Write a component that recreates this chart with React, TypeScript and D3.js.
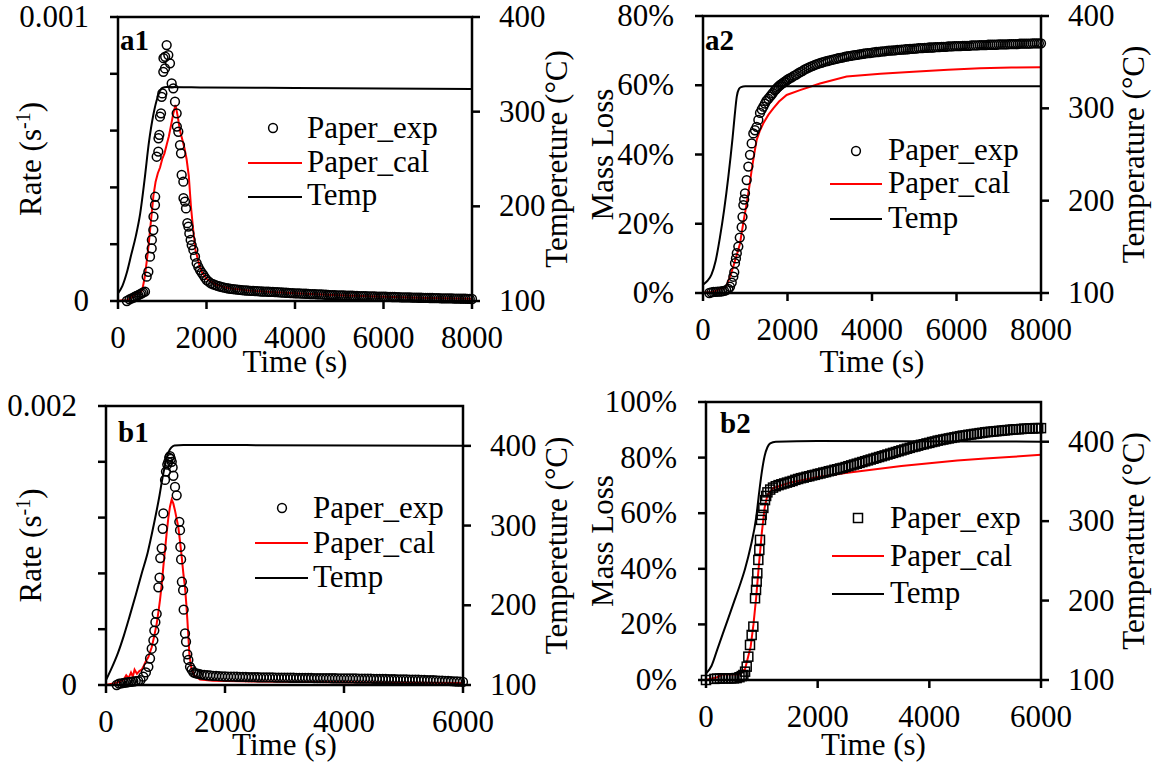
import React from 'react';
import * as d3 from 'd3';

type P = [number, number];

// ---------- Panel a1 (rate, 0..8000 s) ----------
const a1Temp: P[] = [[0,108],[100,116],[200,130],[300,149],[400,168],[500,192],[600,228],[700,268],[800,297],[900,316],[950,322],[1000,325],[1100,326],[2000,325.5],[4000,325],[8000,324]];
const a1Exp: P[] = [[200,0],[260,0.000006],[309,0.0000095],[350,0.000012],[384,0.000015],[420,0.000018],[459,0.000021],[500,0.000024],[535,0.000027],[570,0.00003],[610,0.000033],[648,0.0000857],[686,0.000103],[723,0.000156],[761,0.000185],[765,0.000215],[798,0.00025],[802,0.000297],[836,0.000338],[840,0.000367],[874,0.000508],[911,0.000526],[915,0.000573],[934,0.000585],[949,0.000649],[972,0.000661],[987,0.000719],[1002,0.000731],[1024,0.000807],[1062,0.000819],[1028,0.000855],[1066,0.00086],[1100,0.000901],[1137,0.000866],[1175,0.000837],[1213,0.000766],[1250,0.000749],[1288,0.000702],[1326,0.000661],[1330,0.000614],[1363,0.000596],[1401,0.000549],[1424,0.00052],[1439,0.000444],[1477,0.00042],[1480,0.000362],[1514,0.00035],[1537,0.000326],[1567,0.000274],[1590,0.000262],[1612,0.000238],[1642,0.000215],[1665,0.000197],[1703,0.00018],[1740,0.000156],[1778,0.000133],[1815,0.00012],[1853,0.000109],[1890,0.0001],[1928,0.0000915],[1966,0.000082],[2004,0.000074]];
// tail of the experiment, sampled every 50 s from 2050 s, rate in 1e-5 s^-1
const a1TailStart = 2050;
const a1TailRate1e5 = [
  6.8, 6.2, 5.9, 5.6, 5.3, 5.1, 4.9, 4.7, 4.55, 4.4,
  4.3, 4.2, 4.1, 4.0, 3.9, 3.8, 3.75, 3.7, 3.65, 3.6,
  3.55, 3.5, 3.45, 3.4, 3.35, 3.3, 3.3, 3.25, 3.2, 3.2,
  3.15, 3.1, 3.05, 3.0, 2.95, 2.9, 2.85, 2.8, 2.75, 2.7,
  2.7, 2.65, 2.6, 2.6, 2.55, 2.5, 2.45, 2.4, 2.4, 2.35,
  2.3, 2.3, 2.25, 2.2, 2.15, 2.1, 2.1, 2.05, 2.0, 2.0,
  1.95, 1.95, 1.9, 1.9, 1.85, 1.85, 1.8, 1.8, 1.75, 1.75,
  1.7, 1.7, 1.65, 1.65, 1.6, 1.6, 1.55, 1.55, 1.5, 1.5,
  1.5, 1.45, 1.45, 1.4, 1.4, 1.35, 1.35, 1.3, 1.3, 1.3,
  1.25, 1.25, 1.2, 1.2, 1.2, 1.15, 1.15, 1.1, 1.1, 1.1,
  1.05, 1.05, 1.0, 1.0, 1.0, 0.95, 0.95, 0.95, 0.9, 0.9,
  0.9, 0.85, 0.85, 0.85, 0.8, 0.8, 0.8, 0.75, 0.75, 0.7,
];
const a1Cal: P[] = [[0,0],[100,0.000003],[200,0.000002],[300,0.000012],[400,0.000025],[450,0.00003],[500,0.000028],[550,0.00004],[600,0.00008],[650,0.00014],[700,0.00021],[750,0.00029],[800,0.00037],[850,0.00042],[900,0.00045],[950,0.00047],[1000,0.0005],[1050,0.00052],[1100,0.00055],[1150,0.00058],[1200,0.00062],[1250,0.00066],[1300,0.00069],[1350,0.00065],[1400,0.0006],[1450,0.00057],[1500,0.00054],[1550,0.0005],[1600,0.00044],[1650,0.00033],[1700,0.00025],[1750,0.00018],[1800,0.00015],[1850,0.00012],[1900,0.0001],[2000,0.000078],[2200,0.000058],[2500,0.000045],[3000,0.000036],[4000,0.000027],[5000,0.00002],[6000,0.000015],[7000,0.000011],[8000,0.000008]];

// ---------- Panel a2 (mass loss, 0..8000 s) ----------
const a2Temp: P[] = [[0,109],[100,113],[200,120],[300,135],[400,160],[500,190],[600,226],[700,268],[750,292],[800,313],[850,321],[900,323],[1000,324],[8000,324]];
const a2Exp: P[] = [[150,0],[200,0.002],[250,0.003],[300,0.003],[350,0.004],[400,0.004],[450,0.005],[500,0.006],[550,0.008],[600,0.012],[639,0.018],[680,0.03],[718,0.047],[740,0.06],[757,0.086],[780,0.1],[800,0.115],[836,0.134],[870,0.16],[915,0.19],[935,0.22],[955,0.254],[975,0.27],[994,0.288],[1034,0.326],[1073,0.365],[1112,0.399],[1152,0.432],[1191,0.461],[1230,0.47],[1270,0.48],[1310,0.5],[1349,0.52],[1390,0.53],[1428,0.538],[1465,0.547],[1500,0.555],[1545,0.561],[1586,0.567],[1620,0.572],[1650,0.577],[1700,0.585],[1730,0.589],[1760,0.593],[1790,0.597],[1822,0.6],[1855,0.603],[1890,0.606],[1920,0.609],[1950,0.611],[1980,0.614],[2010,0.617]];
// tail sampled every 50 s from 2050 s, mass loss in %
const a2TailStart = 2050;
const a2TailPct = [
  62.0, 62.3, 62.7, 63.0, 63.4, 63.8, 64.1, 64.5, 64.8, 65.1,
  65.4, 65.6, 65.9, 66.1, 66.3, 66.5, 66.7, 66.9, 67.0, 67.2,
  67.3, 67.5, 67.6, 67.8, 67.9, 68.0, 68.2, 68.3, 68.4, 68.5,
  68.6, 68.7, 68.8, 68.9, 69.0, 69.1, 69.2, 69.3, 69.3, 69.4,
  69.5, 69.6, 69.6, 69.7, 69.8, 69.8, 69.9, 70.0, 70.0, 70.1,
  70.1, 70.2, 70.2, 70.3, 70.3, 70.4, 70.4, 70.5, 70.5, 70.6,
  70.6, 70.7, 70.7, 70.7, 70.8, 70.8, 70.9, 70.9, 70.9, 71.0,
  71.0, 71.0, 71.1, 71.1, 71.1, 71.2, 71.2, 71.2, 71.3, 71.3,
  71.3, 71.3, 71.4, 71.4, 71.4, 71.4, 71.5, 71.5, 71.5, 71.5,
  71.6, 71.6, 71.6, 71.6, 71.7, 71.7, 71.7, 71.7, 71.7, 71.8,
  71.8, 71.8, 71.8, 71.8, 71.9, 71.9, 71.9, 71.9, 71.9, 72.0,
  72.0, 72.0, 72.0, 72.0, 72.0, 72.1, 72.1, 72.1, 72.1, 72.1,
];
const a2Cal: P[] = [[0,0.001],[100,0.002],[200,0.003],[300,0.006],[400,0.012],[450,0.014],[500,0.015],[550,0.02],[600,0.035],[650,0.05],[700,0.07],[750,0.09],[800,0.11],[876,0.143],[950,0.2],[1034,0.259],[1100,0.31],[1152,0.355],[1210,0.4],[1270,0.442],[1350,0.47],[1428,0.49],[1550,0.515],[1664,0.533],[1800,0.553],[1980,0.572],[2296,0.586],[2769,0.605],[3400,0.625],[4200,0.633],[4978,0.639],[5800,0.645],[6556,0.649],[7300,0.651],[8000,0.652]];

// ---------- Panel b1 (rate, 0..6000 s) ----------
const b1Temp: P[] = [[0,106],[100,122],[200,140],[300,162],[400,187],[500,213],[600,240],[700,266],[800,300],[900,338],[950,360],[1000,378],[1050,392],[1100,398],[1150,400.5],[1300,401],[6000,400]];
const b1Exp: P[] = [[180,0],[220,0.00001],[260,0.000012],[300,0.000015],[340,0.000018],[380,0.00002],[420,0.000022],[460,0.000025],[500,0.000028],[540,0.00003],[580,0.000035],[627,0.00006],[670,0.00009],[712,0.00013],[740,0.00019],[768,0.00026],[796,0.00032],[812,0.00039],[830,0.00045],[852,0.00051],[880,0.0007],[900,0.00077],[912,0.00091],[936,0.00098],[953,0.00112],[964,0.00123],[992,0.00147],[1008,0.00153],[1030,0.00158],[1047,0.0016],[1062,0.00163],[1076,0.00164],[1090,0.00162],[1105,0.0016],[1120,0.00156],[1132,0.0015],[1160,0.00142],[1188,0.00136],[1232,0.00117],[1244,0.00111],[1250,0.00099],[1262,0.0009],[1275,0.00074],[1296,0.00068],[1305,0.00054],[1328,0.00037],[1345,0.00031],[1367,0.00022],[1384,0.00018],[1412,0.00013],[1440,0.00011],[1470,0.00009],[1500,0.000085],[1530,0.000082],[1560,0.00008]];
// tail sampled every 50 s from 1600 s, rate in 1e-5 s^-1
const b1TailStart = 1600;
const b1TailRate1e5 = [
  7.5, 7.2, 7.0, 6.8, 6.6, 6.5, 6.3, 6.2, 6.1, 6.05,
  6.0, 5.95, 5.9, 5.85, 5.8, 5.75, 5.7, 5.65, 5.6, 5.55,
  5.5, 5.5, 5.45, 5.4, 5.4, 5.35, 5.3, 5.3, 5.25, 5.25,
  5.2, 5.2, 5.15, 5.15, 5.1, 5.1, 5.05, 5.05, 5.0, 5.0,
  4.95, 4.95, 4.9, 4.9, 4.85, 4.85, 4.8, 4.8, 4.75, 4.75,
  4.7, 4.7, 4.65, 4.6, 4.6, 4.55, 4.5, 4.5, 4.45, 4.4,
  4.35, 4.3, 4.3, 4.25, 4.2, 4.15, 4.1, 4.05, 4.0, 3.95,
  3.9, 3.85, 3.8, 3.75, 3.7, 3.6, 3.5, 3.45, 3.4, 3.3,
  3.2, 3.1, 3.0, 2.9, 2.8, 2.65, 2.5, 2.35, 2.2,
];
const b1Cal: P[] = [[0,0],[60,0.000005],[120,0.00001],[200,0.00002],[300,0.00004],[340,0.00007],[380,0.00005],[420,0.00009],[450,0.00006],[480,0.00011],[520,0.00008],[560,0.0001],[600,0.00011],[627,0.00013],[670,0.00017],[712,0.0002],[768,0.00027],[810,0.00035],[852,0.00044],[880,0.00052],[908,0.00061],[936,0.00072],[964,0.00085],[992,0.00097],[1020,0.00109],[1048,0.0012],[1076,0.00128],[1104,0.00133],[1132,0.0013],[1160,0.00125],[1188,0.00119],[1216,0.00113],[1244,0.00103],[1272,0.00092],[1300,0.0008],[1328,0.0007],[1350,0.00058],[1367,0.00047],[1384,0.00035],[1400,0.00023],[1420,0.00016],[1440,0.00011],[1480,0.00007],[1580,0.00004],[1800,0.00003],[2500,0.000025],[4000,0.00002],[6000,0.000015]];

// ---------- Panel b2 (mass loss, 0..6000 s) ----------
const b2Temp: P[] = [[0,108],[100,118],[200,138],[300,158],[400,178],[500,198],[600,218],[700,240],[800,268],[900,305],[950,335],[1000,362],[1050,382],[1100,393],[1150,398],[1250,400],[2000,401],[6000,400]];
const b2Exp: P[] = [[0,0],[150,0.004],[200,0.005],[250,0.005],[300,0.006],[350,0.006],[400,0.006],[450,0.006],[500,0.006],[549,0.007],[600,0.01],[640,0.014],[669,0.018],[700,0.03],[729,0.048],[758,0.084],[788,0.126],[818,0.162],[848,0.192],[878,0.294],[896,0.324],[908,0.354],[919,0.384],[937,0.432],[955,0.468],[967,0.504],[985,0.576],[997,0.594],[1027,0.619],[1057,0.647],[1077,0.662]];
// tail sampled every 50 s from 1100 s, mass loss in %
const b2TailStart = 1100;
const b2TailPct = [
  67.5, 68.5, 69.2, 69.7, 70.1, 70.4, 70.7, 71.0, 71.3, 71.6,
  72.0, 72.3, 72.6, 72.8, 73.1, 73.3, 73.6, 73.8, 74.1, 74.3,
  74.6, 74.8, 75.1, 75.3, 75.6, 75.8, 76.1, 76.3, 76.6, 76.9,
  77.2, 77.5, 77.8, 78.1, 78.4, 78.7, 79.0, 79.3, 79.6, 79.9,
  80.2, 80.5, 80.8, 81.1, 81.4, 81.7, 82.0, 82.3, 82.6, 82.9,
  83.2, 83.5, 83.8, 84.0, 84.3, 84.6, 84.8, 85.1, 85.3, 85.6,
  85.8, 86.1, 86.3, 86.5, 86.7, 86.9, 87.1, 87.3, 87.5, 87.7,
  87.9, 88.0, 88.2, 88.3, 88.5, 88.6, 88.8, 88.9, 89.1, 89.2,
  89.3, 89.4, 89.5, 89.6, 89.7, 89.8, 89.9, 90.0, 90.1, 90.2,
  90.2, 90.3, 90.4, 90.4, 90.5, 90.5, 90.6, 90.6, 90.6,
];
const b2Cal: P[] = [[0,0],[200,0.01],[300,0.02],[450,0.02],[600,0.02],[700,0.04],[800,0.12],[850,0.2],[900,0.3],[950,0.42],[1000,0.53],[1050,0.62],[1100,0.665],[1200,0.69],[1500,0.71],[2000,0.73],[2500,0.745],[3000,0.757],[3500,0.77],[4000,0.78],[4500,0.79],[5000,0.797],[5500,0.803],[6000,0.81]];

// ---------- tick labels ----------
const a1LeftLabels = ['0', '', '', '', '', '0.001'];
const b1LeftLabels = ['0', '', '', '', '', '0.002'];
const a2LeftLabels = ['0%', '20%', '40%', '60%', '80%'];
const b2LeftLabels = ['0%', '20%', '40%', '60%', '80%', '100%'];
const tempTicks = [100, 200, 300, 400];
const xTicks8000 = [0, 2000, 4000, 6000, 8000];
const xTicks6000 = [0, 2000, 4000, 6000];
const legendNames = ['Paper_exp', 'Paper_cal', 'Temp'];

const SAMPLE_STEP = 50; // s, sampling interval of the experimental tails
const tail = (start: number, vals: number[], unit: number): P[] =>
  vals.map((v, i) => [start + i * SAMPLE_STEP, v * unit] as P);

const FONT = "'Liberation Serif', 'Times New Roman', Times, serif";

interface Cfg {
  tag: string;
  x0: number; x1: number; y0: number; y1: number;
  xMax: number; xTicks: number[];
  leftMax: number; leftStep: number; leftLabels: string[];
  rightMax: number;
  leftTitle: React.ReactNode; leftTitleX: number;
  rightTitle: string; rightTitleX: number;
  temp: P[]; exp: P[]; cal: P[];
  marker: 'circle' | 'square';
  legend: { mx: number; my: number; lx0: number; lx1: number; tx: number; base: number[]; lineY: number[] };
  tagX: number; tagY: number;
  timeBase: number;
}

function Panel({ c }: { c: Cfg }) {
  const x = d3.scaleLinear().domain([0, c.xMax]).range([c.x0, c.x1]);
  const yL = d3.scaleLinear().domain([0, c.leftMax]).range([c.y1, c.y0]);
  const yR = d3.scaleLinear().domain([100, c.rightMax]).range([c.y1, c.y0]);
  const tempPath = d3.line<P>().x(d => x(d[0])).y(d => yR(d[1])).curve(d3.curveMonotoneX)(c.temp) || '';
  const calPath = d3.line<P>().x(d => x(d[0])).y(d => yL(d[1]))(c.cal) || '';
  const leftTicks = c.leftLabels.map((_, i) => i * c.leftStep);
  const fs = 31;
  const mk = (px: number, py: number, k: string) =>
    c.marker === 'circle'
      ? <circle key={k} cx={px} cy={py} r={4.4} fill="none" stroke="#000" strokeWidth={1.5} />
      : <rect key={k} x={px - 4.5} y={py - 4.5} width={9} height={9} fill="none" stroke="#000" strokeWidth={1.5} />;
  return (
    <g style={{ fontFamily: FONT }} fill="#000">
      <path d={calPath} fill="none" stroke="#ff0000" strokeWidth={2} />
      <g>{c.exp.map((d, i) => mk(x(d[0]), yL(d[1]), 'e' + i))}</g>
      <path d={tempPath} fill="none" stroke="#000" strokeWidth={2} />
      <rect x={c.x0} y={c.y0} width={c.x1 - c.x0} height={c.y1 - c.y0} fill="none" stroke="#000" strokeWidth={2.5} />
      {leftTicks.map((v, i) => (
        <g key={'l' + i}>
          <line x1={c.x0 - 8} x2={c.x0} y1={yL(v)} y2={yL(v)} stroke="#000" strokeWidth={2.5} />
          {c.leftLabels[i] && (
            <text x={c.x0 - 29} y={yL(v) + 10} textAnchor="end" fontSize={fs}>{c.leftLabels[i]}</text>
          )}
        </g>
      ))}
      {tempTicks.map((v, i) => (
        <g key={'r' + i}>
          <line x1={c.x1} x2={c.x1 + 8} y1={yR(v)} y2={yR(v)} stroke="#000" strokeWidth={2.5} />
          <text x={c.x1 + 27} y={yR(v) + 10} textAnchor="start" fontSize={fs}>{v}</text>
        </g>
      ))}
      {c.xTicks.map((v, i) => (
        <g key={'b' + i}>
          <line x1={x(v)} x2={x(v)} y1={c.y1} y2={c.y1 + 8} stroke="#000" strokeWidth={2.5} />
          <text x={x(v)} y={c.y1 + 47} textAnchor="middle" fontSize={fs}>{v}</text>
        </g>
      ))}
      <text x={(c.x0 + c.x1) / 2} y={c.timeBase} textAnchor="middle" fontSize={fs}>Time (s)</text>
      <text transform={`translate(${c.leftTitleX},${(c.y0 + c.y1) / 2}) rotate(-90)`} textAnchor="middle" fontSize={fs}>{c.leftTitle}</text>
      <text transform={`translate(${c.rightTitleX},${(c.y0 + c.y1) / 2}) rotate(-90)`} textAnchor="middle" fontSize={fs}>{c.rightTitle}</text>
      <text x={c.tagX} y={c.tagY} fontSize={29} fontWeight="bold">{c.tag}</text>
      {mk(c.legend.mx, c.legend.my, 'lg')}
      <line x1={c.legend.lx0} x2={c.legend.lx1} y1={c.legend.lineY[0]} y2={c.legend.lineY[0]} stroke="#ff0000" strokeWidth={2} />
      <line x1={c.legend.lx0} x2={c.legend.lx1} y1={c.legend.lineY[1]} y2={c.legend.lineY[1]} stroke="#000" strokeWidth={2} />
      {legendNames.map((n, i) => (
        <text key={n} x={c.legend.tx} y={c.legend.base[i]} fontSize={fs}>{n}</text>
      ))}
    </g>
  );
}

const rateTitle = (
  <>
    <tspan>Rate (s</tspan>
    <tspan dy={-11} fontSize={20}>-1</tspan>
    <tspan dy={11}>)</tspan>
  </>
);

const panels: Cfg[] = [
  {
    tag: 'a1', x0: 118, x1: 472, y0: 17, y1: 301, xMax: 8000, xTicks: xTicks8000,
    leftMax: 0.001, leftStep: 0.0002, leftLabels: a1LeftLabels, rightMax: 400,
    leftTitle: rateTitle, leftTitleX: 41, rightTitle: 'Tempereture (°C)', rightTitleX: 567,
    temp: a1Temp, exp: [...a1Exp, ...tail(a1TailStart, a1TailRate1e5, 1e-5)], cal: a1Cal, marker: 'circle',
    legend: { mx: 273, my: 128, lx0: 248, lx1: 302, tx: 307, base: [138, 172, 205], lineY: [163, 197] },
    tagX: 120, tagY: 50, timeBase: 372,
  },
  {
    tag: 'a2', x0: 703, x1: 1041, y0: 16, y1: 293, xMax: 8000, xTicks: xTicks8000,
    leftMax: 0.8, leftStep: 0.2, leftLabels: a2LeftLabels, rightMax: 400,
    leftTitle: 'Mass Loss', leftTitleX: 613, rightTitle: 'Temperature (°C)', rightTitleX: 1144,
    temp: a2Temp, exp: [...a2Exp, ...tail(a2TailStart, a2TailPct, 0.01)], cal: a2Cal, marker: 'circle',
    legend: { mx: 856, my: 151, lx0: 830, lx1: 882, tx: 888, base: [160, 193, 228], lineY: [184, 219] },
    tagX: 705, tagY: 50, timeBase: 372,
  },
  {
    tag: 'b1', x0: 106, x1: 463, y0: 406, y1: 685, xMax: 6000, xTicks: xTicks6000,
    leftMax: 0.002, leftStep: 0.0004, leftLabels: b1LeftLabels, rightMax: 450,
    leftTitle: rateTitle, leftTitleX: 41, rightTitle: 'Tempereture (°C)', rightTitleX: 567,
    temp: b1Temp, exp: [...b1Exp, ...tail(b1TailStart, b1TailRate1e5, 1e-5)], cal: b1Cal, marker: 'circle',
    legend: { mx: 282, my: 508, lx0: 255, lx1: 308, tx: 313, base: [518, 553, 587], lineY: [543, 578] },
    tagX: 118, tagY: 442, timeBase: 755,
  },
  {
    tag: 'b2', x0: 706, x1: 1041, y0: 402, y1: 680, xMax: 6000, xTicks: xTicks6000,
    leftMax: 1, leftStep: 0.2, leftLabels: b2LeftLabels, rightMax: 450,
    leftTitle: 'Mass Loss', leftTitleX: 613, rightTitle: 'Temperature (°C)', rightTitleX: 1144,
    temp: b2Temp, exp: [...b2Exp, ...tail(b2TailStart, b2TailPct, 0.01)], cal: b2Cal, marker: 'square',
    legend: { mx: 858, my: 518, lx0: 832, lx1: 884, tx: 890, base: [528, 566, 603], lineY: [556, 594] },
    tagX: 720, tagY: 433, timeBase: 755,
  },
];

export default function App() {
  return (
    <svg width={1158} height={765} style={{ position: 'absolute', left: 0, top: 0, background: '#fff' }}>
      <rect x={0} y={0} width={1158} height={765} fill="#fff" />
      {panels.map(p => <Panel key={p.tag} c={p} />)}
    </svg>
  );
}
